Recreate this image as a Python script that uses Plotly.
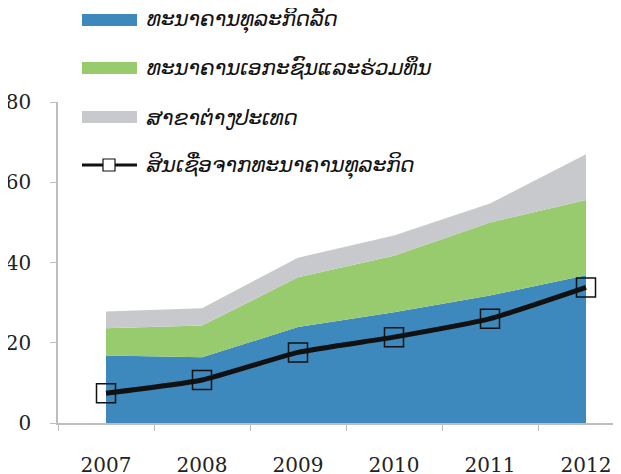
import plotly.graph_objects as go

# datos (aprox.)
years = ["2007", "2008", "2009", "2010", "2011", "2012"]
state_banks = [16.8, 16.4, 23.9, 27.6, 31.8, 36.8]
private_banks = [6.8, 7.9, 12.4, 14.1, 18.2, 18.8]
foreign_branches = [4.2, 4.3, 4.9, 5.0, 4.7, 11.4]
credit = [7.4, 10.7, 17.6, 21.4, 26.0, 33.8]

names = ["ທະນາຄານທຸລະກິດລັດ", "ທະນາຄານເອກະຊົນແລະຮ່ວມທຶນ", "ສາຂາຕ່າງປະເທດ", "ສິນເຊື່ອຈາກທະນາຄານທຸລະກິດ"]
colors = ["#3d88bc", "#97cb6e", "#c8c9cc"]

# la pagina tiene un margen de 8px, lo compenso
OFF = 8
W, H = 621, 474
L, R, T, B = 58 - OFF, 0, 102 - OFF, 474 - 423 + OFF
plot_w = W - L - R

fig = go.Figure()
for vals, name, col in zip([state_banks, private_banks, foreign_branches], names, colors):
    fig.add_trace(go.Scatter(x=years, y=vals, name=name, stackgroup="one", mode="none",
                             fillcolor=col, showlegend=False))

fig.add_trace(go.Scatter(x=years, y=credit, name=names[3], mode="lines+markers",
                         line=dict(color="#111111", width=5, shape="spline", smoothing=0.5),
                         marker=dict(symbol="square-open", size=19, color="#111111", line=dict(width=1.5)),
                         showlegend=False))

# leyenda dibujada a mano (pixeles de pantalla -> paper)
def px_x(p):
    return (p - OFF - L) / plot_w

def px_y(p):
    return (H - B - (p - OFF)) / (H - T - B)

rows = [20, 68, 117, 165]
shapes = []
annotations = []
for i, yc in enumerate(rows):
    if i < 3:
        shapes.append(dict(type="rect", xref="paper", yref="paper", x0=px_x(82), x1=px_x(137),
                           y0=px_y(yc + 6), y1=px_y(yc - 6), fillcolor=colors[i], line=dict(width=0), layer="above"))
    else:
        shapes.append(dict(type="line", xref="paper", yref="paper", x0=px_x(82), x1=px_x(137),
                           y0=px_y(yc), y1=px_y(yc), line=dict(color="#111111", width=3), layer="above"))
        shapes.append(dict(type="rect", xref="paper", yref="paper", x0=px_x(103), x1=px_x(115),
                           y0=px_y(yc + 6), y1=px_y(yc - 6), fillcolor="white",
                           line=dict(color="#111111", width=1.2), layer="above"))
    annotations.append(dict(text="<i>" + names[i] + "</i>", xref="paper", yref="paper",
                            x=px_x(144), y=px_y(yc), xanchor="left", yanchor="middle", showarrow=False,
                            font=dict(family="DejaVu Sans", size=21.5, color="#111111")))

# una categoria = 96 px
x_hi = -0.5 + plot_w / 96.0

fig.update_layout(
    width=W, height=H,
    margin=dict(l=L, r=R, t=T, b=B),
    plot_bgcolor="white", paper_bgcolor="white",
    font=dict(family="DejaVu Serif", size=20, color="#222222"),
    shapes=shapes, annotations=annotations,
    xaxis=dict(type="category", range=[-0.5, x_hi], tickson="boundaries", ticks="outside",
               ticklen=6, tickcolor="#bdbdbd", showline=True, linecolor="#bdbdbd", linewidth=1.5,
               showgrid=False, ticklabelstandoff=23, automargin=False),
    yaxis=dict(range=[0, 80], dtick=20, ticks="outside", ticklen=6, tickcolor="#bdbdbd",
               showline=True, linecolor="#bdbdbd", linewidth=1.5, showgrid=False, zeroline=False,
               ticklabelstandoff=15, automargin=False),
)

fig.write_html("out.html")
